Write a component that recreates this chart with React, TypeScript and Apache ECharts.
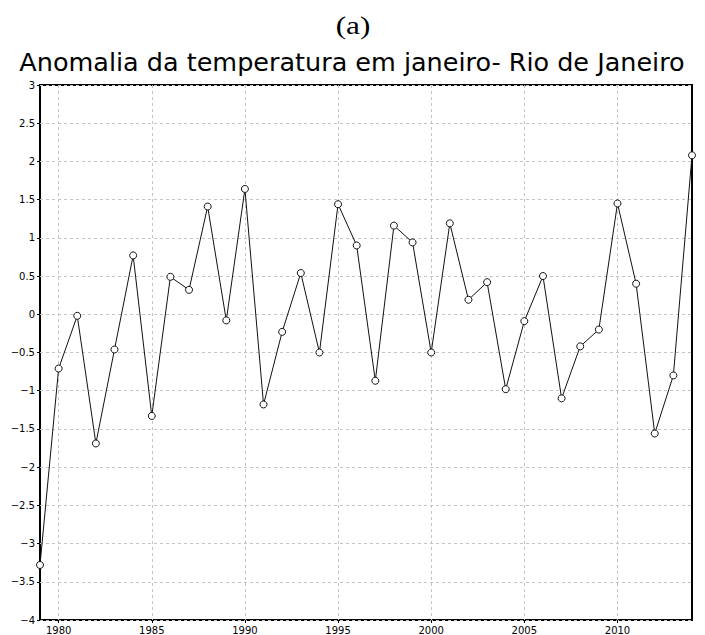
import React, { useEffect, useRef } from "react";
import * as echarts from "echarts";

const years = [
  1979, 1980, 1981, 1982, 1983, 1984, 1985, 1986, 1987, 1988, 1989, 1990,
  1991, 1992, 1993, 1994, 1995, 1996, 1997, 1998, 1999, 2000, 2001, 2002,
  2003, 2004, 2005, 2006, 2007, 2008, 2009, 2010, 2011, 2012, 2013, 2014,
];
const anomalies = [
  -3.28, -0.71, -0.02, -1.69, -0.46, 0.77, -1.33, 0.49, 0.32, 1.41, -0.08, 1.64,
  -1.18, -0.23, 0.54, -0.5, 1.44, 0.9, -0.87, 1.16, 0.94, -0.5, 1.19, 0.19,
  0.42, -0.98, -0.09, 0.5, -1.1, -0.42, -0.2, 1.45, 0.4, -1.56, -0.8, 2.08,
];
const xTickYears = [1980, 1985, 1990, 1995, 2000, 2005, 2010];
const panelLabel = "(a)";
const chartTitle = "Anomalia da temperatura em janeiro- Rio de Janeiro";

export default function App() {
  const ref = useRef<HTMLDivElement>(null);
  useEffect(() => {
    if (!ref.current) return;
    const chart = echarts.init(ref.current, undefined, { renderer: "svg" });
    const data = years.map((y, i) => [y, anomalies[i]]);
    chart.setOption({
      animation: false,
      backgroundColor: "#ffffff",
      graphic: [
        {
          type: "text",
          x: 353,
          y: 25,
          scaleX: 1.2,
          style: {
            text: panelLabel,
            fontFamily: "Liberation Serif",
            fontSize: 26,
            fill: "#000",
            align: "center",
            verticalAlign: "middle",
          },
        },
        {
          type: "text",
          x: 352,
          y: 63,
          scaleX: 1.04,
          style: {
            text: chartTitle,
            fontFamily: "DejaVu Sans",
            fontSize: 24.5,
            fill: "#000",
            align: "center",
            verticalAlign: "middle",
          },
        },
      ],
      grid: {
        left: 40,
        top: 85,
        right: 13,
        bottom: 13,
        show: true,
        borderColor: "#000",
        borderWidth: 2,
        containLabel: false,
      },
      xAxis: {
        type: "value",
        min: 1979,
        max: 2014,
        axisLine: { show: false, onZero: false },
        axisTick: { show: true, customValues: xTickYears, length: 3, lineStyle: { color: "#000" } },
        axisLabel: {
          customValues: xTickYears,
          fontSize: 10,
          fontFamily: "DejaVu Sans",
          color: "#000",
          margin: 5,
          formatter: (v: number) => String(v),
        },
        splitLine: {
          show: true,
          lineStyle: { color: "#c4c4c4", type: [3, 3], width: 1 },
        },
      },
      yAxis: {
        type: "value",
        min: -4,
        max: 3,
        interval: 0.5,
        axisLine: { show: false, onZero: false },
        axisTick: { show: true, length: 3, lineStyle: { color: "#000" } },
        axisLabel: {
          fontSize: 10,
          fontFamily: "DejaVu Sans",
          color: "#000",
          margin: 5,
          formatter: (v: number) => String(v).replace("-", "\u2212"),
        },
        splitLine: {
          show: true,
          lineStyle: { color: "#c4c4c4", type: [3, 3], width: 1 },
        },
      },
      series: [
        {
          type: "line",
          data,
          symbol: "circle",
          symbolSize: 7,
          showAllSymbol: true,
          lineStyle: { color: "#111", width: 1 },
          itemStyle: { color: "#fff", borderColor: "#111", borderWidth: 1 },
        },
      ],
    });
    return () => chart.dispose();
  }, []);
  return (
    <div
      ref={ref}
      style={{ position: "fixed", left: 0, top: 0, width: 705, height: 635, background: "#fff" }}
    />
  );
}
